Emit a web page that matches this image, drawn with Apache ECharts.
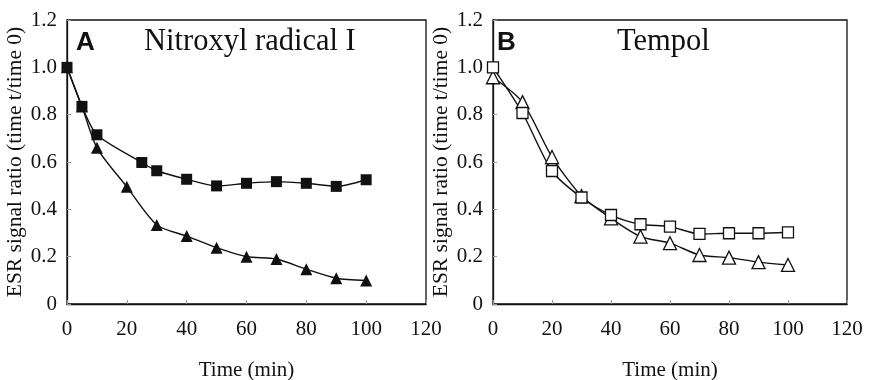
<!DOCTYPE html>
<html>
<head>
<meta charset="utf-8">
<script src="https://cdn.jsdelivr.net/npm/echarts@6/dist/echarts.min.js"></script>
<style>
  html, body { margin: 0; padding: 0; background: #fff; }
  #chart { width: 870px; height: 380px; }
</style>
</head>
<body>
<div id="chart"></div>
<script>
// Time points (min)
const timeA = [0, 5, 10, 25, 30, 40, 50, 60, 70, 80, 90, 100];
const timeA2 = [0, 5, 10, 20, 30, 40, 50, 60, 70, 80, 90, 100];
const timeB = [0, 10, 20, 30, 40, 50, 60, 70, 80, 90, 100];

// Panel A: nitroxyl radical I
const radicalSquares = [1.0, 0.835, 0.715, 0.598, 0.563, 0.527, 0.499, 0.51, 0.517, 0.51, 0.497, 0.525];
const radicalTriangles = [1.0, 0.835, 0.66, 0.495, 0.334, 0.287, 0.238, 0.2, 0.19, 0.147, 0.109, 0.099];

// Panel B: Tempol
const tempolSquares = [1.0, 0.807, 0.562, 0.45, 0.376, 0.337, 0.327, 0.296, 0.299, 0.299, 0.303];
const tempolTriangles = [0.958, 0.853, 0.621, 0.456, 0.362, 0.285, 0.257, 0.207, 0.196, 0.177, 0.165];

const xTicks = [0, 20, 40, 60, 80, 100, 120];
const yTicks = [0, 0.2, 0.4, 0.6, 0.8, 1.0, 1.2];

const serif = 'Liberation Serif';
const ink = '#111';

function pairs(xs, ys) { return xs.map((x, i) => [x, ys[i]]); }

function xAxis(gridIndex) {
  return {
    type: 'value', gridIndex: gridIndex,
    min: xTicks[0], max: xTicks[xTicks.length - 1], interval: 20,
    name: 'Time (min)', nameLocation: 'middle', nameGap: 56,
    nameTextStyle: { fontFamily: serif, fontSize: 21, color: ink },
    axisLine: { show: true, onZero: false, lineStyle: { color: ink, width: 1.3 } },
    axisTick: { show: true, inside: true, length: 4, lineStyle: { color: '#999', width: 1 } },
    axisLabel: { fontFamily: serif, fontSize: 21, color: ink, margin: 15 },
    splitLine: { show: false }
  };
}

function yAxis(gridIndex) {
  return {
    type: 'value', gridIndex: gridIndex,
    min: yTicks[0], max: yTicks[yTicks.length - 1], interval: 0.2,
    name: 'ESR signal ratio (time t/time 0)', nameLocation: 'middle', nameGap: 34,
    nameTextStyle: { fontFamily: serif, fontSize: 21.5, color: ink },
    axisLine: { show: true, lineStyle: { color: ink, width: 1.3 } },
    axisTick: { show: true, inside: true, length: 4, lineStyle: { color: '#999', width: 1 } },
    axisLabel: {
      fontFamily: serif, fontSize: 21, color: ink, margin: 10,
      formatter: v => (v === 0 ? '0' : v.toFixed(1))
    },
    splitLine: { show: false }
  };
}

function line(name, gi, data, symbol, size, filled) {
  return {
    name: name, type: 'line', xAxisIndex: gi, yAxisIndex: gi,
    data: data, smooth: 0.25,
    symbol: symbol, symbolSize: size, showAllSymbol: true,
    lineStyle: { color: ink, width: 1.4 },
    itemStyle: filled
      ? { color: ink, borderColor: ink, borderWidth: 0 }
      : { color: '#fff', borderColor: ink, borderWidth: 1.3 },
    z: 3
  };
}

const chart = echarts.init(document.getElementById('chart'), null, { renderer: 'canvas' });
chart.setOption({
  animation: false,
  backgroundColor: '#fff',
  grid: [
    { left: 67, top: 20, width: 359, height: 284, outerBoundsMode: 'none', containLabel: false,
      show: true, borderColor: ink, borderWidth: 1.3, backgroundColor: 'transparent' },
    { left: 493, top: 20, width: 354, height: 284, outerBoundsMode: 'none', containLabel: false,
      show: true, borderColor: ink, borderWidth: 1.3, backgroundColor: 'transparent' }
  ],
  graphic: [
    { type: 'text', left: 76, top: 30, style: { text: 'A', font: 'bold 26px "Liberation Sans"', fill: ink } },
    { type: 'text', left: 144, top: 26, style: { text: 'Nitroxyl radical I', font: '30.5px "Liberation Serif"', fill: ink } },
    { type: 'text', left: 497, top: 30, style: { text: 'B', font: 'bold 26px "Liberation Sans"', fill: ink } },
    { type: 'text', left: 617, top: 26, style: { text: 'Tempol', font: '30.5px "Liberation Serif"', fill: ink } }
  ],
  xAxis: [xAxis(0), xAxis(1)],
  yAxis: [yAxis(0), yAxis(1)],
  series: [
    line('radical squares', 0, pairs(timeA, radicalSquares), 'rect', 11, true),
    line('radical triangles', 0, pairs(timeA2, radicalTriangles), 'triangle', 12, true),
    line('tempol triangles', 1, pairs(timeB, tempolTriangles), 'triangle', 13, false),
    line('tempol squares', 1, pairs(timeB, tempolSquares), 'rect', 11, false)
  ]
});
</script>
</body>
</html>
